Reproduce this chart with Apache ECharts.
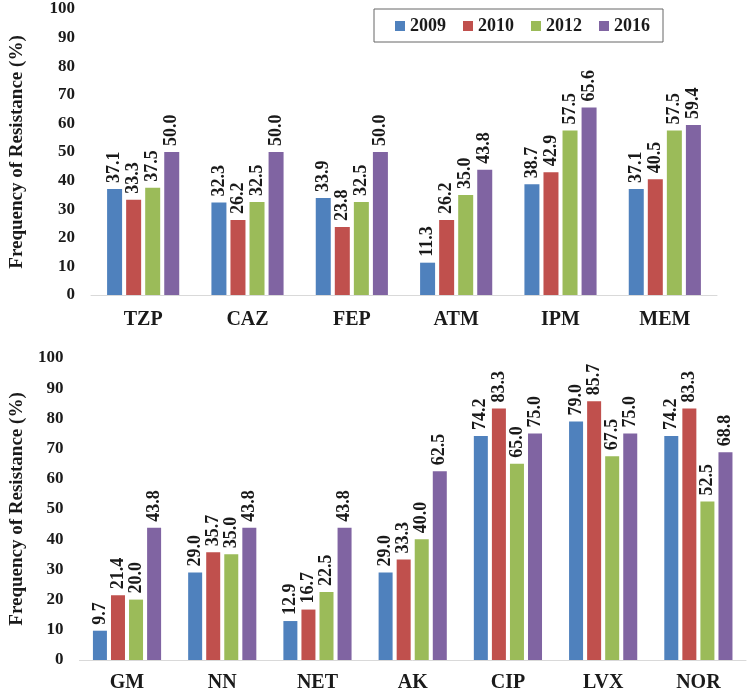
<!DOCTYPE html>
<html>
<head>
<meta charset="utf-8">
<script src="https://cdn.jsdelivr.net/npm/echarts@6/dist/echarts.min.js"></script>
<style>html,body{margin:0;padding:0;background:#fff}#c{width:748px;height:693px}</style>
</head>
<body>
<div id="c"></div>
<script>
var years = ['2009', '2010', '2012', '2016'];
var colors = ['#4F81BD', '#C0504D', '#9BBB59', '#8064A2'];
var yTicks = [0, 10, 20, 30, 40, 50, 60, 70, 80, 90, 100];

var topCategories = ['TZP', 'CAZ', 'FEP', 'ATM', 'IPM', 'MEM'];
var top2009 = [37.1, 32.3, 33.9, 11.3, 38.7, 37.1];
var top2010 = [33.3, 26.2, 23.8, 26.2, 42.9, 40.5];
var top2012 = [37.5, 32.5, 32.5, 35.0, 57.5, 57.5];
var top2016 = [50.0, 50.0, 50.0, 43.8, 65.6, 59.4];

var bottomCategories = ['GM', 'NN', 'NET', 'AK', 'CIP', 'LVX', 'NOR'];
var bottom2009 = [9.7, 29.0, 12.9, 29.0, 74.2, 79.0, 74.2];
var bottom2010 = [21.4, 35.7, 16.7, 33.3, 83.3, 85.7, 83.3];
var bottom2012 = [20.0, 35.0, 22.5, 40.0, 65.0, 67.5, 52.5];
var bottom2016 = [43.8, 43.8, 43.8, 62.5, 75.0, 75.0, 68.8];

var FONT = '"Liberation Serif", "Times New Roman", serif';
var topData = [top2009, top2010, top2012, top2016];
var bottomData = [bottom2009, bottom2010, bottom2012, bottom2016];

function mkSeries(data, idx, gridIdx, bw, gap) {
  return {
    name: years[idx], type: 'bar', xAxisIndex: gridIdx, yAxisIndex: gridIdx,
    data: data, barWidth: bw, barGap: gap,
    itemStyle: { color: colors[idx] },
    label: {
      show: true, position: 'top', rotate: 90, align: 'left', verticalAlign: 'middle',
      distance: 6, fontFamily: FONT, fontWeight: 'bold', fontSize: 18, color: '#1a1a1a',
      formatter: function (p) { return p.value.toFixed(1); }
    }
  };
}

function yAxis(gridIdx, gap) {
  return {
    type: 'value', gridIndex: gridIdx, min: 0, max: 100, interval: 10,
    name: 'Frequency of Resistance (%)', nameLocation: 'middle', nameGap: gap,
    nameTextStyle: { fontFamily: FONT, fontWeight: 'bold', fontSize: 19, color: '#1a1a1a' },
    axisLine: { show: false }, axisTick: { show: false }, splitLine: { show: false },
    axisLabel: { fontFamily: FONT, fontWeight: 'bold', fontSize: 17, color: '#1a1a1a', margin: 16,
      formatter: function (v) { return yTicks.indexOf(v) >= 0 ? String(v) : ''; } }
  };
}

function xAxis(gridIdx, cats, margin) {
  return {
    type: 'category', gridIndex: gridIdx, data: cats,
    axisLine: { lineStyle: { color: '#d9d9d9', width: 1 } },
    axisTick: { show: false },
    axisLabel: { fontFamily: FONT, fontWeight: 'bold', fontSize: 20, color: '#1a1a1a', margin: margin }
  };
}

var series = [];
for (var i = 0; i < 4; i++) series.push(mkSeries(topData[i], i, 0, 15, '27%'));
for (var j = 0; j < 4; j++) series.push(mkSeries(bottomData[j], j, 1, 14, '29%'));

var chart = echarts.init(document.getElementById('c'), null, { renderer: 'canvas' });
chart.setOption({
  animation: false,
  backgroundColor: '#ffffff',
  legend: {
    data: years, left: 374, top: 9, orient: 'horizontal',
    itemWidth: 10, itemHeight: 10, itemGap: 17,
    padding: [8, 13, 7, 21],
    borderColor: '#666666', borderWidth: 1,
    icon: 'rect',
    textStyle: { fontFamily: FONT, fontWeight: 'bold', fontSize: 18, color: '#1a1a1a' }
  },
  grid: [
    { left: 84, right: 31, top: 9, height: 286 },
    { left: 68, right: 2, top: 358, height: 302 }
  ],
  xAxis: [xAxis(0, topCategories, 15), xAxis(1, bottomCategories, 13)],
  yAxis: [yAxis(0, 64), yAxis(1, 48)],
  series: series
});
</script>
</body>
</html>
